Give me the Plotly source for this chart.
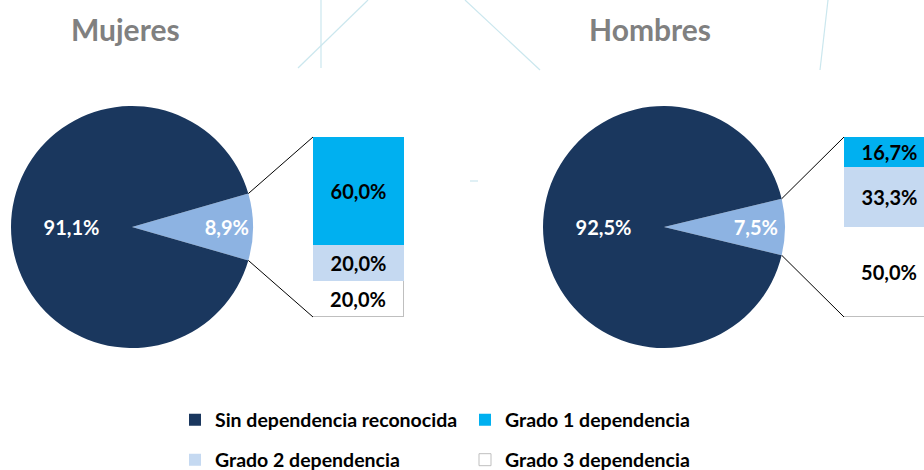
import math
import plotly.graph_objects as go

# ---------------- data ----------------
pie_labels = ["Con dependencia reconocida", "Sin dependencia reconocida"]
mujeres_pie = [8.9, 91.1]
hombres_pie = [7.5, 92.5]

grade_labels = ["Grado 1 dependencia", "Grado 2 dependencia", "Grado 3 dependencia"]
mujeres_grades = [60.0, 20.0, 20.0]
hombres_grades = [16.7, 33.3, 50.0]

titles = ["Mujeres", "Hombres"]

# ---------------- style / layout constants ----------------
W, H = 924, 470
NAVY = "#1A375E"
SLICE = "#8DB3E2"
CYAN = "#00B0F0"
LIGHT = "#C5D9F1"
WHITE = "#FFFFFF"
BORDER = "#BFBFBF"
FONT = "Lato"
grade_colors = [CYAN, LIGHT, WHITE]

R = 121                       # pie radius (px)
pie_cx = [132, 664]           # pie centres (px)
pie_cy = 227
bar_left = [313, 844]         # bar left edges (px)
bar_w = 91
bar_top, bar_bot = 137, 317
title_x = [126, 650]
title_y = 29


def px_x(v):
    return v / W


def px_y(v):
    return (H - v) / H


fig = go.Figure()

pies = [mujeres_pie, hombres_pie]
grades = [mujeres_grades, hombres_grades]
axes = [("x", "y"), ("x2", "y2")]
shapes = []

for k in range(2):
    vals = pies[k]
    small = vals[0] / sum(vals)
    cx = pie_cx[k]
    fig.add_trace(go.Pie(
        labels=pie_labels, values=vals, sort=False, direction="clockwise",
        rotation=90 - 180 * small,
        marker=dict(colors=[SLICE, NAVY], line=dict(width=0)),
        texttemplate="%{percent:.1%}", textposition="inside",
        insidetextorientation="horizontal",
        textfont=dict(family=FONT, size=20, color="white", weight="bold"),
        domain=dict(x=[px_x(cx - R), px_x(cx + R)],
                    y=[px_y(pie_cy + R), px_y(pie_cy - R)]),
        showlegend=False, hoverinfo="label+percent",
    ))
    # connector lines from slice edges to the bar
    half = math.pi * small
    for sgn, by in ((1, bar_top), (-1, bar_bot)):
        ex = cx + R * math.cos(half)
        ey = pie_cy - sgn * R * math.sin(half)
        shapes.append(dict(type="line", xref="paper", yref="paper",
                           x0=px_x(ex), y0=px_y(ey),
                           x1=px_x(bar_left[k]), y1=px_y(by),
                           line=dict(color="black", width=1)))
    # stacked bar (bottom to top: Grado 3, Grado 2, Grado 1)
    xa, ya = axes[k]
    for i in reversed(range(3)):
        is_white = grade_colors[i] == WHITE
        fig.add_trace(go.Bar(
            x=[0], y=[grades[k][i]], width=1, name=grade_labels[i],
            marker=dict(color=grade_colors[i],
                        line=dict(color=BORDER if is_white else grade_colors[i],
                                  width=1 if is_white else 0)),
            texttemplate="%{y:.1f}%", textposition="inside",
            insidetextanchor="middle", constraintext="none",
            textfont=dict(family=FONT, size=20, color="black", weight="bold"),
            xaxis=xa, yaxis=ya,
            showlegend=(k == 0),
            legend="legend" if i == 0 else "legend2",
            legendrank=i + 2,
        ))

# legend entry for the dark pie slice
fig.add_trace(go.Scatter(
    x=[None], y=[None], mode="markers", name=pie_labels[1],
    marker=dict(symbol="square", size=12, color=NAVY),
    xaxis="x", yaxis="y", legend="legend", legendrank=1, showlegend=True,
))

# decorative background strokes
deco = [((321, 0), (321, 68)), ((298, 68), (368, 0)),
        ((465, 0), (540, 70)), ((828, 0), (820, 70)), ((470, 181), (478, 181))]
for (a, b) in deco:
    shapes.append(dict(type="line", xref="paper", yref="paper", layer="below",
                       x0=px_x(a[0]), y0=px_y(a[1]), x1=px_x(b[0]), y1=px_y(b[1]),
                       line=dict(color="#CBE7EE", width=1.2)))

annotations = []
for k in range(2):
    annotations.append(dict(text=titles[k], xref="paper", yref="paper",
                            x=px_x(title_x[k]), y=px_y(title_y),
                            xanchor="center", yanchor="middle", showarrow=False,
                            font=dict(family=FONT, size=30, color="#808080", weight="bold")))

legend_common = dict(orientation="h", xanchor="left", yanchor="middle",
                     xref="container", yref="container",
                     entrywidth=245, entrywidthmode="pixels",
                     font=dict(family=FONT, size=19.5, color="black", weight="bold"),
                     bgcolor="rgba(0,0,0,0)", itemclick=False, itemdoubleclick=False,
                     traceorder="normal")

fig.update_layout(
    width=W, height=H, margin=dict(l=0, r=0, t=0, b=0, autoexpand=False),
    paper_bgcolor="white", plot_bgcolor="rgba(0,0,0,0)",
    separators=",.", barmode="stack", bargap=0,
    xaxis=dict(domain=[px_x(bar_left[0]), px_x(bar_left[0] + bar_w)], range=[-0.5, 0.5],
               visible=False, fixedrange=True, anchor="y"),
    yaxis=dict(domain=[px_y(bar_bot), px_y(bar_top)], range=[0, 100],
               visible=False, fixedrange=True, anchor="x"),
    xaxis2=dict(domain=[px_x(bar_left[1]), 1],
                range=[-0.5, -0.5 + (W - bar_left[1]) / bar_w],
                visible=False, fixedrange=True, anchor="y2"),
    yaxis2=dict(domain=[px_y(bar_bot), px_y(bar_top)], range=[0, 100],
                visible=False, fixedrange=True, anchor="x2"),
    legend=dict(x=px_x(175), y=px_y(420), **legend_common),
    legend2=dict(x=px_x(175), y=px_y(460), **legend_common),
    shapes=shapes, annotations=annotations,
    showlegend=True,
)

fig.write_html(
    "out.html",
    config={"displayModeBar": False},
    post_script="document.body.style.margin='0';document.body.style.overflow='hidden';",
)
